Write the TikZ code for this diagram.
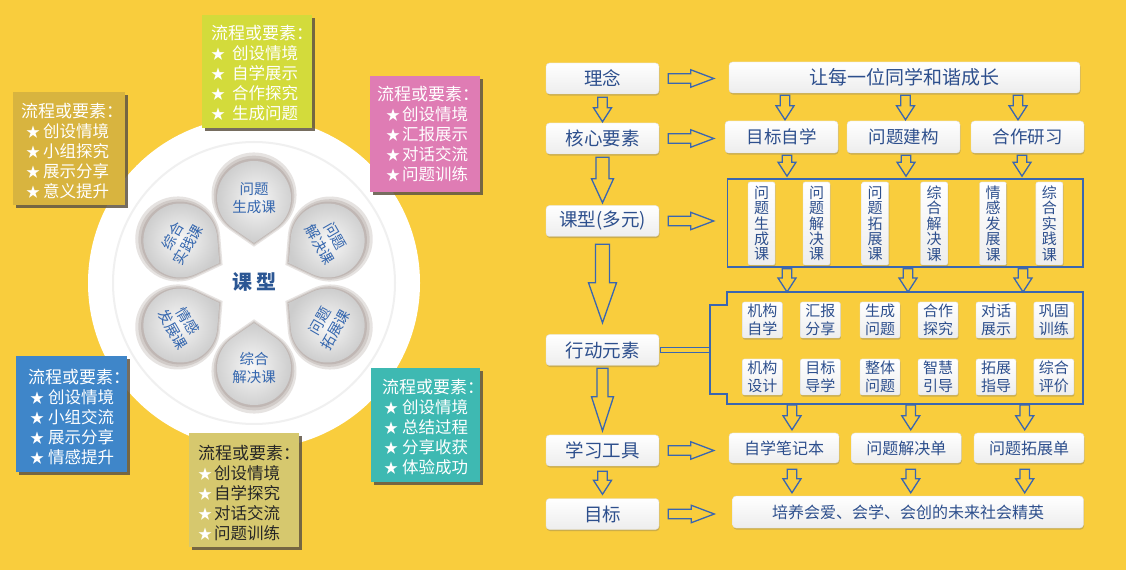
\documentclass[tikz,border=0pt]{standalone}
\usepackage{fontspec}
\setmainfont{Noto Sans CJK SC}
\usetikzlibrary{calc,shadows,positioning}
\definecolor{bgyellow}{HTML}{F9CD3D}
\definecolor{goldbox}{HTML}{D8B43F}
\definecolor{limebox}{HTML}{D3DB3B}
\definecolor{pinkbox}{HTML}{DF7CB4}
\definecolor{bluebox}{HTML}{3F86C9}
\definecolor{khakibox}{HTML}{D6C86E}
\definecolor{tealbox}{HTML}{3EB9B2}
\definecolor{boxshade}{HTML}{5F5444}
\definecolor{lineblue}{HTML}{3A66B0}
\definecolor{labelblue}{HTML}{2D4F8D}
\definecolor{petalblue}{HTML}{3466AE}
\definecolor{petalshade}{HTML}{6E5A52}
\newlength{\stind}
\newlength{\txtind}
\newcommand{\itm}[1]{\\\makebox[\txtind][l]{\hspace*{\stind}{\fontsize{14}{14}\selectfont\color{white}★}}#1}
\newcommand{\liucheng}{{\fontsize{17}{20}\selectfont 流程或要素：}}
\newcommand{\hollow}[5]{%
  \path (#1) coordinate (ha) (#2) coordinate (hb);
  \path ($(hb)!#5!(ha)$) coordinate (hh);
  \draw[hollowline] ($(ha)!#3!90:(hb)$) -- ($(hh)!#3!90:(hb)$) -- ($(hh)!#4!90:(hb)$) -- (hb)
    -- ($(hh)!#4!-90:(hb)$) -- ($(hh)!#3!-90:(hb)$) -- ($(ha)!#3!-90:(hb)$) -- cycle;}
\newcommand{\petalpath}{(0,40) -- ($(0,85)+(-55.3:37)$) arc[start angle=-55.3,end angle=235.3,radius=37] -- cycle}
\newcommand{\petal}[4]{%
  \begin{scope}[shift={(254,287)},rotate=#2-90]
    \fill[petalshade,opacity=.17,shift={(0,3)},scale around={1.15:(0,85)}] \petalpath;
    \fill[petalshade,opacity=.17,shift={(0,2)},scale around={1.09:(0,85)}] \petalpath;
    \fill[petalshade,opacity=.17,shift={(0,1)},scale around={1.04:(0,85)}] \petalpath;
    \shade[inner color=gray!6,outer color=gray!40] \petalpath;
  \end{scope}
  \node[petaltext,rotate=#4] (#1) at ($(254,287)+(#2:85)$) {#3};}

\begin{document}
\begin{tikzpicture}[x=1pt,y=1pt,
    elembox/.style={drop shadow={shadow xshift=3pt,shadow yshift=-3pt,opacity=.85,fill=boxshade}},
    elemtext/.style={anchor=north west,align=left,text=white,inner sep=0pt,font=\fontsize{16.5}{20}\selectfont},
    petaltext/.style={align=center,text=petalblue,font=\fontsize{14.5}{17.5}\selectfont},
    wbox/.style={draw=gray!25,line width=.4pt,rounded corners=3.5pt,top color=white,bottom color=gray!14,
      text=labelblue,inner sep=0pt,drop shadow={shadow xshift=.6pt,shadow yshift=-1.6pt,opacity=.3,fill=black!60}},
    lbox/.style={wbox,minimum width=113pt,minimum height=31pt,font=\fontsize{18.5}{20}\selectfont},
    corebox/.style={wbox,minimum width=113pt,minimum height=32pt,font=\fontsize{17.5}{20}\selectfont},
    kbox/.style={wbox,rounded corners=2pt,minimum width=27pt,minimum height=83pt,align=center,
      font=\fontsize{15}{15.4}\selectfont},
    dbox/.style={wbox,rounded corners=2pt,minimum width=40pt,minimum height=36pt,align=center,
      font=\fontsize{15}{17.5}\selectfont},
    tbox/.style={wbox,minimum width=110pt,minimum height=30pt,font=\fontsize{16}{18}\selectfont},
    frameline/.style={draw=lineblue,line width=1.6pt},
    hollowline/.style={draw=lineblue,line width=1.3pt,line join=miter}]
  \useasboundingbox (0,0) rectangle (1126,570);
  \fill[bgyellow] (0,0) rectangle (1126,570);

  \fill[white] (254,287) circle (166);
  \draw[gray!12,line width=2pt] (254,287) circle (141);
  \petal{p1}{90}{问题\\生成课}{0}
  \petal{p2}{30}{问题\\解决课}{-60}
  \petal{p3}{-30}{问题\\拓展课}{60}
  \petal{p4}{-90}{综合\\解决课}{0}
  \petal{p5}{-150}{情感\\发展课}{-60}
  \petal{p6}{150}{综合\\实践课}{60}
  \node[text=petalblue!85!black,font=\fontsize{20}{20}\selectfont\bfseries] (kexingc) at (254,288) {课\hspace{4pt}型};

  \node[elembox,fill=goldbox,minimum width=112pt,minimum height=113pt] (gold) at (69,421.5) {};
  \node[elemtext,execute at begin node={\setlength{\stind}{5pt}\setlength{\txtind}{22pt}}] (goldt)
    at ($(gold.north west)+(8,-11.5)$) {\liucheng\itm{创设情境}\itm{小组探究}\itm{展示分享}\itm{意义提升}};
  \node[elembox,fill=limebox,minimum width=110pt,minimum height=113pt] (lime) at (257,498.5) {};
  \node[elemtext,execute at begin node={\setlength{\stind}{0pt}\setlength{\txtind}{21pt}}] (limet)
    at ($(lime.north west)+(9,-10.5)$) {\liucheng\itm{创设情境}\itm{自学展示}\itm{合作探究}\itm{生成问题}};
  \node[elembox,fill=pinkbox,minimum width=110pt,minimum height=116pt] (pink) at (425,436) {};
  \node[elemtext,execute at begin node={\setlength{\stind}{9pt}\setlength{\txtind}{25pt}}] (pinkt)
    at ($(pink.north west)+(7,-10)$) {\liucheng\itm{创设情境}\itm{汇报展示}\itm{对话交流}\itm{问题训练}};
  \node[elembox,fill=bluebox,minimum width=111pt,minimum height=116pt] (blue) at (71.5,156) {};
  \node[elemtext,execute at begin node={\setlength{\stind}{2pt}\setlength{\txtind}{20pt}}] (bluet)
    at ($(blue.north west)+(12,-13.5)$) {\liucheng\itm{创设情境}\itm{小组交流}\itm{展示分享}\itm{情感提升}};
  \node[elembox,fill=khakibox,minimum width=110pt,minimum height=114pt] (khaki) at (244,80) {};
  \node[elemtext,text=black!85,execute at begin node={\setlength{\stind}{0pt}\setlength{\txtind}{16pt}}] (khakit)
    at ($(khaki.north west)+(9,-12.5)$) {\liucheng\itm{创设情境}\itm{自学探究}\itm{对话交流}\itm{问题训练}};
  \node[elembox,fill=tealbox,minimum width=109pt,minimum height=114pt] (teal) at (425.5,145) {};
  \node[elemtext,execute at begin node={\setlength{\stind}{2pt}\setlength{\txtind}{20pt}}] (tealt)
    at ($(teal.north west)+(11,-11.5)$) {\liucheng\itm{创设情境}\itm{总结过程}\itm{分享收获}\itm{体验成功}};

  \node[lbox] (linian) at (602.5,491.5) {理念};
  \node[lbox] (hexin) at (602.5,431.5) {核心要素};
  \node[lbox] (kexing) at (602.5,349) {课型(多元)};
  \node[lbox] (xingdong) at (602.5,220) {行动元素};
  \node[lbox] (gongju) at (602.5,119.5) {学习工具};
  \node[lbox] (mubiao) at (602.5,56) {目标};

  \node[wbox,minimum width=351pt,minimum height=31pt,font=\fontsize{19}{20}\selectfont] (rang) at (904.5,492.5) {让每一位同学和谐成长};
  \node[corebox] (zixue) at (781.5,433) {目标自学};
  \node[corebox] (jiangou) at (903.5,433) {问题建构};
  \node[corebox] (yanxi) at (1027.5,433) {合作研习};

  \node[frameline,minimum width=355.5pt,minimum height=88pt] (kebox) at (905.25,347) {};
  \node[kbox] (ke1) at (761.5,346.5) {问\\题\\生\\成\\课};
  \node[kbox] (ke2) at (816.5,346.5) {问\\题\\解\\决\\课};
  \node[kbox] (ke3) at (875.2,346.5) {问\\题\\拓\\展\\课};
  \node[kbox] (ke4) at (934.2,346.5) {综\\合\\解\\决\\课};
  \node[kbox] (ke5) at (993,346.5) {情\\感\\发\\展\\课};
  \node[kbox] (ke6) at (1049.4,346.5) {综\\合\\实\\践\\课};

  \draw[frameline] (727,278) coordinate (dongnw) -- (1083,278) -- (1083,166) -- (727,166) coordinate (dongsw)
    -- (727,176) -- (710,176) coordinate (kuobot) -- (710,265) coordinate (kuotop) -- (727,265) -- cycle;
  \node[dbox] (d1) at (762.3,250) {机构\\自学};
  \node[dbox] (d2) at (820.3,250) {汇报\\分享};
  \node[dbox] (d3) at (880,250) {生成\\问题};
  \node[dbox] (d4) at (938,250) {合作\\探究};
  \node[dbox] (d5) at (996,250) {对话\\展示};
  \node[dbox] (d6) at (1053.8,250) {巩固\\训练};
  \node[dbox] (d7) at (762.3,193) {机构\\设计};
  \node[dbox] (d8) at (820.3,193) {目标\\导学};
  \node[dbox] (d9) at (880,193) {整体\\问题};
  \node[dbox] (d10) at (938,193) {智慧\\引导};
  \node[dbox] (d11) at (996,193) {拓展\\指导};
  \node[dbox] (d12) at (1053.8,193) {综合\\评价};
  \draw[lineblue,line width=1.2pt] ($(xingdong.east)+(1,2.5)$) rectangle ($(xingdong.east -| kuotop)+(0,-2.5)$);

  \node[tbox] (biji) at (784,122) {自学笔记本};
  \node[tbox] (jiejue) at (906.25,122) {问题解决单};
  \node[tbox] (tuozhan) at (1029,122) {问题拓展单};
  \node[wbox,minimum width=351pt,minimum height=32pt,font=\fontsize{16}{18}\selectfont] (peiyang) at (908,58) {培养会爱、会学、会创的未来社会精英};

  \hollow{$(linian.east)+(9,0)$}{$(linian.east -| rang.west)+(-15,0)$}{4.7pt}{8.7pt}{23pt}
  \hollow{$(hexin.east)+(9,0)$}{$(hexin.east -| zixue.west)+(-11,0)$}{4.7pt}{8.7pt}{23pt}
  \hollow{$(kexing.east)+(9,0)$}{$(kexing.east -| kebox.west)+(-13,0)$}{4.7pt}{8.7pt}{23pt}
  \hollow{$(gongju.east)+(9,0)$}{$(gongju.east -| biji.west)+(-15,0)$}{4.7pt}{8.7pt}{23pt}
  \hollow{$(mubiao.east)+(9,0)$}{$(mubiao.east -| peiyang.west)+(-18,0)$}{4.7pt}{8.7pt}{23pt}

  \hollow{$(linian.south)+(0,-3)$}{$(hexin.north)+(0,1)$}{4.7pt}{9pt}{14pt}
  \hollow{$(hexin.south)+(0,-3)$}{$(kexing.north)+(0,2.5)$}{6.5pt}{11pt}{24pt}
  \hollow{$(kexing.south)+(0,-7.5)$}{$(xingdong.north)+(0,11.5)$}{7pt}{14pt}{40pt}
  \hollow{$(xingdong.south)+(0,-2.5)$}{$(gongju.north)+(0,4)$}{5.5pt}{11pt}{34pt}
  \hollow{$(gongju.south)+(0,-5)$}{$(mubiao.north)+(0,4)$}{4.7pt}{9pt}{14pt}

  \hollow{$(rang.south -| zixue)+(3.5,-2)$}{$(zixue.north)+(3.5,1)$}{4.7pt}{9pt}{14pt}
  \hollow{$(rang.south -| jiangou)+(2,-2)$}{$(jiangou.north)+(2,1)$}{4.7pt}{9pt}{14pt}
  \hollow{$(rang.south -| yanxi)+(-9.5,-2)$}{$(yanxi.north)+(-9.5,1)$}{4.7pt}{9pt}{14pt}
  \hollow{$(zixue.south)+(5.5,-2)$}{$(zixue.south |- kebox.north)+(5.5,2)$}{4.7pt}{9pt}{14pt}
  \hollow{$(jiangou.south)+(2.5,-2)$}{$(jiangou.south |- kebox.north)+(2.5,2)$}{4.7pt}{9pt}{14pt}
  \hollow{$(yanxi.south)+(-5.5,-2)$}{$(yanxi.south |- kebox.north)+(-5.5,2)$}{4.7pt}{9pt}{14pt}
  \hollow{$(kebox.south -| zixue)+(5.5,-1)$}{$(zixue |- dongnw)+(5.5,0)$}{4.7pt}{9pt}{14pt}
  \hollow{$(kebox.south -| jiangou)+(4.5,-1)$}{$(jiangou |- dongnw)+(4.5,0)$}{4.7pt}{9pt}{14pt}
  \hollow{$(kebox.south -| yanxi)+(-4.5,-1)$}{$(yanxi |- dongnw)+(-4.5,0)$}{4.7pt}{9pt}{14pt}
  \hollow{$(dongsw -| biji)+(8,-1)$}{$(biji.north)+(8,3)$}{4.7pt}{9pt}{14pt}
  \hollow{$(dongsw -| jiejue)+(4.5,-1)$}{$(jiejue.north)+(4.5,3)$}{4.7pt}{9pt}{14pt}
  \hollow{$(dongsw -| tuozhan)+(-4.3,-1)$}{$(tuozhan.north)+(-4.3,3)$}{4.7pt}{9pt}{14pt}
  \hollow{$(biji.south)+(8,-6)$}{$(biji.south |- peiyang.north)+(8,3)$}{4.7pt}{9pt}{14pt}
  \hollow{$(jiejue.south)+(4.5,-6)$}{$(jiejue.south |- peiyang.north)+(4.5,3)$}{4.7pt}{9pt}{14pt}
  \hollow{$(tuozhan.south)+(-4.3,-6)$}{$(tuozhan.south |- peiyang.north)+(-4.3,3)$}{4.7pt}{9pt}{14pt}
\end{tikzpicture}
\end{document}
